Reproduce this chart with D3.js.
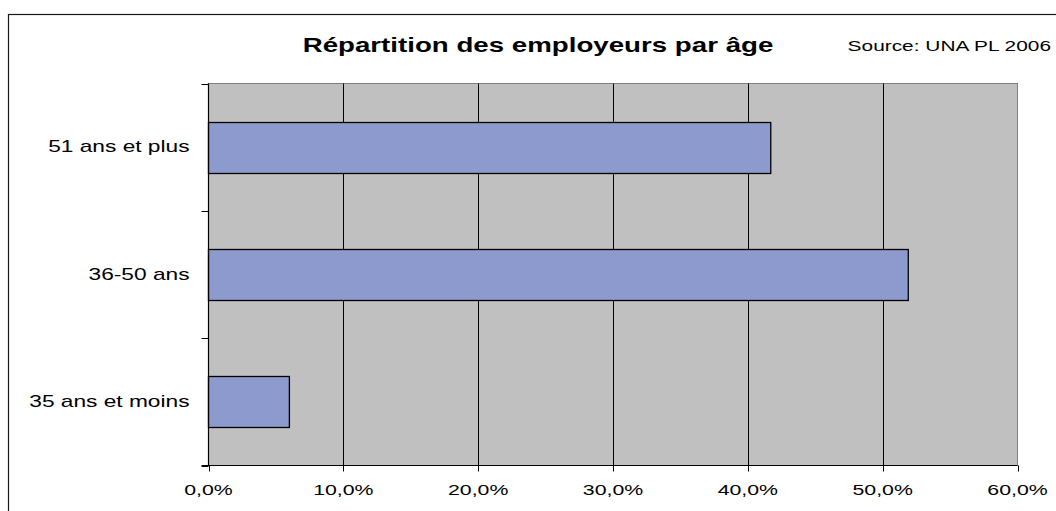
<!DOCTYPE html>
<html>
<head>
<meta charset="utf-8">
<script src="https://cdn.jsdelivr.net/npm/d3@7"></script>
<style>
  html, body { margin: 0; padding: 0; background: #fff; }
  svg { display: block; }
  text { font-family: "Liberation Sans", Arial, sans-serif; fill: #000; }
</style>
</head>
<body>
<script>
// ---- data ----
const categories = ["51 ans et plus", "36-50 ans", "35 ans et moins"];
const values = [41.7, 51.9, 6.0];
const xTicks = [0, 10, 20, 30, 40, 50, 60];
const title = "Répartition des employeurs par âge";
const source = "Source: UNA PL 2006";

// ---- layout ----
const W = 1056, H = 511;
const SX = 1.42; // horizontal stretch of the original picture
const plot = { left: 208.5, right: 1017.5, top: 83.5, bottom: 465.5 };

const svg = d3.select("body").append("svg").attr("width", W).attr("height", H);

// outer frame (runs off right/bottom)
svg.append("rect").attr("x", 8.5).attr("y", 14.5).attr("width", W + 10).attr("height", H + 10)
  .attr("fill", "#fff").attr("stroke", "#1a1a1a").attr("stroke-width", 1.2);

const x = d3.scaleLinear().domain([0, 60]).range([plot.left, plot.right]);
const y = d3.scaleBand().domain(categories).range([plot.top, plot.bottom]).padding(0);

// plot background
svg.append("rect").attr("x", plot.left).attr("y", plot.top)
  .attr("width", plot.right - plot.left).attr("height", plot.bottom - plot.top)
  .attr("fill", "#c0c0c0").attr("stroke", "#808080").attr("stroke-width", 1);

// gridlines
svg.append("g").selectAll("line").data(xTicks.filter(t => t > 0 && t < 60)).join("line")
  .attr("x1", d => Math.round(x(d)) + 0.5).attr("x2", d => Math.round(x(d)) + 0.5)
  .attr("y1", plot.top).attr("y2", plot.bottom)
  .attr("stroke", "#000").attr("stroke-width", 1);

// bars
const barFrac = 0.4;
svg.append("g").selectAll("rect").data(categories).join("rect")
  .attr("x", x(0))
  .attr("y", (d) => Math.round(y(d) + y.bandwidth() * (1 - barFrac) / 2) + 0.5)
  .attr("width", (d, i) => x(values[i]) - x(0))
  .attr("height", Math.round(y.bandwidth() * barFrac))
  .attr("fill", "#8c9ace").attr("stroke", "#000").attr("stroke-width", 1.3);

// x axis
const xAxis = svg.append("g").attr("transform", `translate(0,${plot.bottom})`);
xAxis.append("line").attr("x1", plot.left - 7).attr("x2", plot.right).attr("y1", 0).attr("y2", 0)
  .attr("stroke", "#000").attr("stroke-width", 1.2);
xAxis.selectAll("line.tick").data(xTicks).join("line").attr("class", "tick")
  .attr("x1", d => Math.round(x(d)) + 0.5).attr("x2", d => Math.round(x(d)) + 0.5)
  .attr("y1", 0).attr("y2", 6).attr("stroke", "#000");
xAxis.selectAll("text").data(xTicks).join("text")
  .attr("transform", d => `translate(${x(d)},29.5) scale(${SX},1)`)
  .attr("text-anchor", "middle").style("font-size", "15px")
  .text(d => d3.format(".1f")(d).replace(".", ",") + "%");

// y axis
const yAxis = svg.append("g");
yAxis.append("line").attr("x1", plot.left).attr("x2", plot.left)
  .attr("y1", plot.top).attr("y2", plot.bottom).attr("stroke", "#000").attr("stroke-width", 1.2);
const bounds = categories.map(c => y(c)).concat([plot.bottom]);
yAxis.selectAll("line.tick").data(bounds).join("line").attr("class", "tick")
  .attr("x1", plot.left - 7).attr("x2", plot.left)
  .attr("y1", d => Math.round(d) + 0.5).attr("y2", d => Math.round(d) + 0.5)
  .attr("stroke", "#000");
yAxis.selectAll("text").data(categories).join("text")
  .attr("transform", d => `translate(189.5,${y(d) + y.bandwidth() / 2 + 5}) scale(${SX},1)`)
  .attr("text-anchor", "end").style("font-size", "16px")
  .text(d => d);

// title & source
svg.append("text").attr("transform", `translate(538,52) scale(${SX},1)`)
  .attr("text-anchor", "middle").style("font-size", "19.5px").style("font-weight", "bold")
  .text(title);
svg.append("text").attr("transform", `translate(1051,51) scale(${SX},1)`)
  .attr("text-anchor", "end").style("font-size", "14.7px")
  .text(source);
</script>
</body>
</html>
